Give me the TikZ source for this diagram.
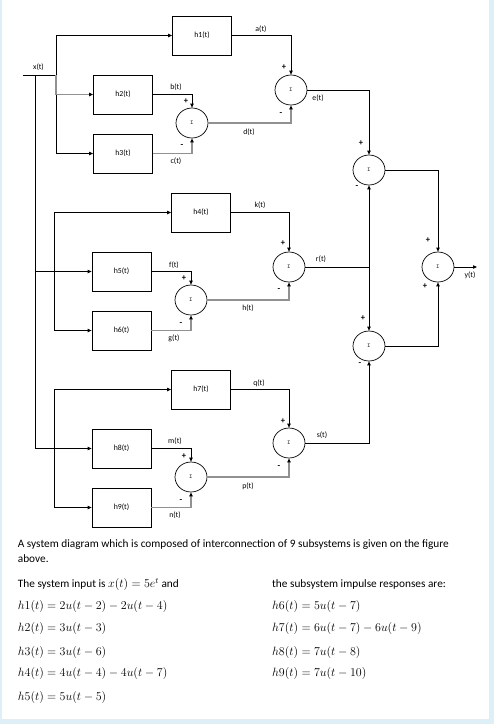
\documentclass[tikz,border=0pt]{standalone}
\usepackage{fontspec}
\setmainfont{Carlito}
\usetikzlibrary{arrows.meta,shapes.geometric,calc}
\definecolor{bgblue}{RGB}{221,239,247}
\definecolor{lgray}{RGB}{145,145,145}
\newcommand{\eqm}[1]{{\fontsize{11.5}{12}\selectfont$#1$}}
\begin{document}
\begin{tikzpicture}[x=1pt,y=-1pt,
  box/.style={draw,line width=0.8pt,minimum width=59pt,minimum height=39pt,inner sep=0pt,font=\fontsize{7.8}{9}\selectfont},
  sumn/.style={draw,ellipse,line width=0.7pt,minimum width=32pt,minimum height=30pt,inner sep=0pt,font=\fontsize{5.5}{6}\selectfont},
  wire/.style={line width=0.8pt},
  arr/.style={wire,-{Triangle[length=4pt,width=3.4pt]}},
  gwire/.style={line width=1.1pt,lgray},
  garr/.style={gwire,-{Triangle[length=4pt,width=3.4pt,color=black]}},
  lab/.style={font=\fontsize{7.8}{9}\selectfont,inner sep=0pt},
  sgn/.style={font=\bfseries\fontsize{8.5}{9}\selectfont,inner sep=0pt},
  txt/.style={font=\fontsize{11.3}{13}\selectfont,inner sep=0pt,anchor=base west}
]
\fill[bgblue] (0,0) rectangle (494,724);
\fill[white] (1.5,0) rectangle (489.3,719);
\useasboundingbox (0,0) rectangle (494,724);

% blocks
\node[box] (h1) at (202,35.5) {h1(t)};
\node[box] (h2) at (123,94.5) {h2(t)};
\node[box] (h3) at (123,153.5) {h3(t)};
\node[box] (h4) at (201,212.5) {h4(t)};
\node[box] (h5) at (121.5,271.5) {h5(t)};
\node[box] (h6) at (121.5,330.5) {h6(t)};
\node[box] (h7) at (201,389.5) {h7(t)};
\node[box] (h8) at (121.5,448.5) {h8(t)};
\node[box] (h9) at (121.5,507.5) {h9(t)};

% summers
\node[sumn] (sA) at (192,123) {Σ};
\node[sumn] (sB) at (291,90) {Σ};
\node[sumn] (sE) at (369,170) {Σ};
\node[sumn] (sC) at (191,300) {Σ};
\node[sumn] (sK) at (289,267) {Σ};
\node[sumn] (sD) at (191,477) {Σ};
\node[sumn] (sQ) at (289,443) {Σ};
\node[sumn] (sF) at (369,346) {Σ};
\node[sumn] (sY) at (438,267) {Σ};

% coordinates
\coordinate (xin) at (23,75);
\coordinate (b1) at (56,75);
\coordinate (tk) at (35,75);
\coordinate (b2) at (b1 |- h2.west);
\coordinate (t2) at (tk |- h5.west);
\coordinate (c2) at (54,271.5);
\coordinate (c3) at (54,448.5);
\coordinate (jr) at (sE |- sK.east);
\coordinate (yout) at (477,267);

% input distribution
\draw[wire] (xin) -- (b1);
\draw[arr] (b1) |- (h1.west);
\draw[garr] (b1) |- (h2.west);
\draw[arr] (b2) |- (h3.west);
\draw[arr] (tk) |- (h8.west);
\draw[arr] (t2) -- (h5.west);
\draw[arr] (c2) |- (h4.west);
\draw[arr] (c2) |- (h6.west);
\draw[arr] (c3) |- (h7.west);
\draw[arr] (c3) |- (h9.west);

% signals
\draw[arr] (h1.east) -| (sB.north);
\draw[arr] (h2.east) -| (sA.north);
\draw[garr] (h3.east) -| (sA.south);
\draw[garr] (sA.east) -| (sB.south);
\draw[arr] (sB.east) -| (sE.north);
\draw[arr] (h4.east) -| (sK.north);
\draw[arr] (h5.east) -| (sC.north);
\draw[garr] (h6.east) -| (sC.south);
\draw[garr] (sC.east) -| (sK.south);
\draw[wire] (sK.east) -- (jr);
\draw[arr] (jr) -- (sE.south);
\draw[arr] (jr) -- (sF.north);
\draw[arr] (h7.east) -| (sQ.north);
\draw[arr] (h8.east) -| (sD.north);
\draw[garr] (h9.east) -| (sD.south);
\draw[garr] (sD.east) -| (sQ.south);
\draw[arr] (sQ.east) -| (sF.south);
\draw[arr] (sE.east) -| (sY.north);
\draw[arr] (sF.east) -| (sY.south);
\draw[arr] (sY.east) -- (yout);

% signal labels
\node[lab] (lx) at (38.5,67) {x(t)};
\node[lab] (la) at (261,29) {a(t)};
\node[lab] (lb) at (176,87) {b(t)};
\node[lab] (lc) at (176,161) {c(t)};
\node[lab] (ld) at (249,132) {d(t)};
\node[lab] (le) at (318,98) {e(t)};
\node[lab] (lf) at (174,265) {f(t)};
\node[lab] (lg) at (174,338) {g(t)};
\node[lab] (lh) at (248,308) {h(t)};
\node[lab] (lk) at (260,205) {k(t)};
\node[lab] (lr) at (321,259) {r(t)};
\node[lab] (lm) at (175,441) {m(t)};
\node[lab] (ln) at (175,515) {n(t)};
\node[lab] (lp) at (248,486) {p(t)};
\node[lab] (lq) at (259,383) {q(t)};
\node[lab] (ls) at (322,435) {s(t)};
\node[lab] (ly) at (470,275) {y(t)};

% signs
\node[sgn] (p1) at (186,101) {+};
\node[sgn] (m1) at (182,146) {-};
\node[sgn] (p2) at (284,67) {+};
\node[sgn] (m2) at (281,114) {-};
\node[sgn] (p3) at (361,143) {+};
\node[sgn] (m3) at (357,187) {-};
\node[sgn] (p4) at (184,278) {+};
\node[sgn] (m4) at (181,324) {-};
\node[sgn] (p5) at (283,243) {+};
\node[sgn] (m5) at (279,290) {-};
\node[sgn] (p6) at (363,318) {+};
\node[sgn] (m6) at (360,364) {-};
\node[sgn] (p7) at (428,240) {+};
\node[sgn] (p8) at (425,286) {+};
\node[sgn] (p9) at (184,456) {+};
\node[sgn] (m9) at (181,501) {-};
\node[sgn] (p10) at (283,421) {+};
\node[sgn] (m10) at (279,467) {-};

% text
\node[txt] (t1) at (17.7,547.5) {A system diagram which is composed of interconnection of 9 subsystems is given on the figure};
\node[txt] (t2) at (17.7,562) {above.};
\node[txt] (t3) at (17.7,587.5) {The system input is \eqm{x(t) = 5e^t} and};
\node[txt] (t4) at (272,587.5) {the subsystem impulse responses are:};
\node[txt] (e1) at (17.7,609) {\eqm{h1(t) = 2u(t-2) - 2u(t-4)}};
\node[txt] (e2) at (17.7,631) {\eqm{h2(t) = 3u(t-3)}};
\node[txt] (e3) at (17.7,655) {\eqm{h3(t) = 3u(t-6)}};
\node[txt] (e4) at (17.7,676) {\eqm{h4(t) = 4u(t-4) - 4u(t-7)}};
\node[txt] (e5) at (17.7,700) {\eqm{h5(t) = 5u(t-5)}};
\node[txt] (e6) at (272,609) {\eqm{h6(t) = 5u(t-7)}};
\node[txt] (e7) at (272,631) {\eqm{h7(t) = 6u(t-7) - 6u(t-9)}};
\node[txt] (e8) at (272,655) {\eqm{h8(t) = 7u(t-8)}};
\node[txt] (e9) at (272,676) {\eqm{h9(t) = 7u(t-10)}};
\end{tikzpicture}
\end{document}
